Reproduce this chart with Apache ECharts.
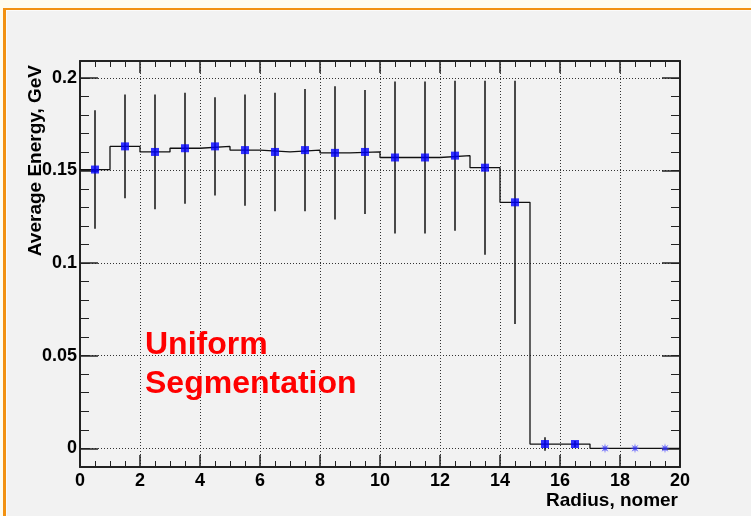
<!DOCTYPE html>
<html>
<head>
<meta charset="utf-8">
<script src="https://cdn.jsdelivr.net/npm/echarts@6/dist/echarts.min.js"></script>
<style>
  html, body { margin:0; padding:0; width:751px; height:516px; overflow:hidden; background:#fffcee; }
  #frame { position:absolute; left:3px; top:8px; width:760px; height:520px;
           border-left:3px solid #f29111; border-top:2px solid #f29111;
           background:#f2f2f2; box-shadow: inset 1px 1px 0 #fbfbfb; }
  #chart { position:absolute; left:0; top:0; width:751px; height:516px; }
</style>
</head>
<body>
<div id="frame"></div>
<div id="chart"></div>
<script>
// ---- data ----
const binCenters = [0.5,1.5,2.5,3.5,4.5,5.5,6.5,7.5,8.5,9.5,10.5,11.5,12.5,13.5,14.5,15.5,16.5,17.5,18.5,19.5];
const avgEnergy  = [0.1505,0.163,0.160,0.162,0.163,0.161,0.160,0.161,0.1595,0.160,0.157,0.157,0.158,0.1515,0.1328,0.0023,0.0023,0,0,0];
const energyErr  = [0.032,0.028,0.031,0.030,0.0265,0.030,0.032,0.033,0.036,0.0335,0.041,0.041,0.0405,0.047,0.0657,0.0036,0.0017,0,0,0];
const xTickValues = [0,2,4,6,8,10,12,14,16,18,20];
const yTickValues = [0,0.05,0.1,0.15,0.2];
const yTickLabels = ['0','0.05','0.1','0.15','0.2'];
const xName = 'Radius, nomer';
const yName = 'Average Energy, GeV';
const noteText = 'Uniform\nSegmentation';

// ---- build ----
const FONT = '"Liberation Sans", Arial, Helvetica, sans-serif';
const yMin = -0.0101, yMax = 0.2091;
const binWidth = 1;
const yMinorValues = [];
for (let k = -1; k <= 20; k++) yMinorValues.push(+(k * 0.01).toFixed(2));

// histogram outline points at bin edges
const stepData = binCenters.map((c, i) => [c - binWidth / 2, avgEnergy[i]]);
stepData.push([binCenters[binCenters.length - 1] + binWidth / 2, avgEnergy[avgEnergy.length - 1]]);

const squarePts = [], starPts = [];
binCenters.forEach((c, i) => { (avgEnergy[i] > 0 ? squarePts : starPts).push([c, avgEnergy[i]]); });
const errData = binCenters.map((c, i) => [c, avgEnergy[i] - energyErr[i], avgEnergy[i] + energyErr[i]]).filter((d, i) => energyErr[i] > 0);

function starPath() {
  const pts = [];
  for (let k = 0; k < 16; k++) {
    const a = k * Math.PI / 8 - Math.PI / 2;
    const r = (k % 2) ? 3.5 : 10;
    pts.push((10 + r * Math.cos(a)).toFixed(2) + ' ' + (10 + r * Math.sin(a)).toFixed(2));
  }
  return 'path://M' + pts.join(' L') + ' Z';
}

const axisColor = '#222';
function xAxisCfg(pos, labels) {
  return {
    type: 'value', min: 0, max: 20, interval: 2, position: pos,
    axisLine: { show: true, onZero: false, lineStyle: { color: axisColor, width: 2 } },
    axisTick: { show: true, inside: true, length: 12, customValues: xTickValues, lineStyle: { color: axisColor, width: 1.5 } },
    minorTick: { show: true, splitNumber: 4, length: 6, lineStyle: { color: axisColor, width: 1 } },
    axisLabel: labels ? { show: true, customValues: xTickValues, fontSize: 18, fontWeight: 'bold', color: '#000', fontFamily: FONT, margin: 5 } : { show: false },
    splitLine: { show: labels, lineStyle: { type: [1, 2], color: '#333', width: 1 } }
  };
}
function yMajorCfg(pos, labels) {
  return {
    type: 'value', min: yMin, max: yMax, position: pos,
    axisLine: { show: true, onZero: false, lineStyle: { color: axisColor, width: 2 } },
    axisTick: { show: true, inside: true, length: 18, customValues: yTickValues, lineStyle: { color: axisColor, width: 1.5 } },
    minorTick: { show: false },
    axisLabel: labels ? { show: true, customValues: yTickValues, fontSize: 18, fontWeight: 'bold', color: '#000', fontFamily: FONT, margin: 3,
      padding: [4, 0, 0, 0],
      formatter: v => { const i = yTickValues.findIndex(t => Math.abs(t - v) < 1e-9); return i >= 0 ? yTickLabels[i] : ''; } } : { show: false },
    splitLine: { show: labels, lineStyle: { type: [1, 2], color: '#333', width: 1 } }
  };
}
function yMinorCfg(pos) {
  return {
    type: 'value', min: yMin, max: yMax, position: pos,
    axisLine: { show: false, onZero: false },
    axisTick: { show: true, inside: true, length: 9, customValues: yMinorValues, lineStyle: { color: axisColor, width: 1 } },
    minorTick: { show: false },
    axisLabel: { show: false },
    splitLine: { show: false }
  };
}

const chart = echarts.init(document.getElementById('chart'), null, { renderer: 'canvas' });
chart.setOption({
  backgroundColor: 'transparent',
  animation: false,
  grid: { left: 80, right: 71, top: 61, bottom: 49, containLabel: false },
  xAxis: [xAxisCfg('bottom', true), xAxisCfg('top', false)],
  yAxis: [yMajorCfg('left', true), yMajorCfg('right', false), yMinorCfg('left'), yMinorCfg('right')],
  series: [
    { type: 'line', data: stepData, step: 'end', symbol: 'none', xAxisIndex: 0, yAxisIndex: 0,
      lineStyle: { color: '#111', width: 1.3 }, z: 2 },
    { type: 'custom', xAxisIndex: 0, yAxisIndex: 0, data: errData, z: 3,
      renderItem: (params, api) => {
        const x = api.value(0);
        const p1 = api.coord([x, api.value(1)]);
        const p2 = api.coord([x, api.value(2)]);
        return { type: 'line', shape: { x1: p1[0], y1: p1[1], x2: p2[0], y2: p2[1] },
                 style: { stroke: '#111', lineWidth: 1.5 } };
      } },
    { type: 'scatter', data: squarePts, symbol: 'rect', symbolSize: 8, xAxisIndex: 0, yAxisIndex: 0,
      itemStyle: { color: '#0000ff' }, z: 4 },
    { type: 'scatter', data: starPts, symbol: starPath(), symbolSize: 10, xAxisIndex: 0, yAxisIndex: 0,
      itemStyle: { color: '#3a3aff' }, z: 4 }
  ],
  graphic: [
    { type: 'text', left: 145, top: 326, z: 10,
      style: { text: noteText, fill: '#ff0000', font: 'bold 32px ' + FONT, lineHeight: 39 } },
    { type: 'text', x: 36, y: 65, rotation: Math.PI / 2, z: 10,
      style: { text: yName, fill: '#000', font: 'bold 19px ' + FONT, textAlign: 'right', textVerticalAlign: 'middle' } },
    { type: 'text', x: 678, y: 501, z: 10,
      style: { text: xName, fill: '#000', font: 'bold 19px ' + FONT, textAlign: 'right', textVerticalAlign: 'middle' } }
  ]
});
</script>
</body>
</html>
